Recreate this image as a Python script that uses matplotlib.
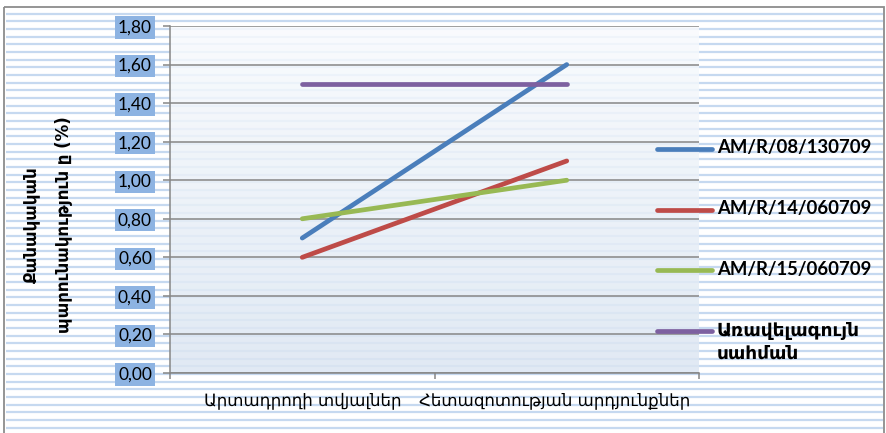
import numpy as np
import matplotlib
matplotlib.use("Agg")
import matplotlib.pyplot as plt
from matplotlib.lines import Line2D
from matplotlib.patches import Rectangle
from matplotlib.transforms import ScaledTranslation

# ---- data -------------------------------------------------------------
categories = ["Արտադրողի տվյալներ", "Հետազոտության արդյունքներ"]
series_names = ["AM/R/08/130709", "AM/R/14/060709", "AM/R/15/060709",
                "Առավելագույն\nսահման"]
am_r_08 = [0.70, 1.60]
am_r_14 = [0.60, 1.10]
am_r_15 = [0.80, 1.00]
max_limit = [1.50, 1.50]
y_ticks = [0.00, 0.20, 0.40, 0.60, 0.80, 1.00, 1.20, 1.40, 1.60, 1.80]
y_tick_labels = ["0,00", "0,20", "0,40", "0,60", "0,80", "1,00", "1,20",
                 "1,40", "1,60", "1,80"]
y_label = "Քանակական\nպարունակություն ը (%)"

series_values = [am_r_08, am_r_14, am_r_15, max_limit]
series_colors = ["#4a7ebb", "#be4b48", "#98b954", "#7d60a0"]

ARM = ["DejaVu Sans"]
NUM = ["Lato", "DejaVu Sans"]

W, H = 886, 433
fig = plt.figure(figsize=(W / 100, H / 100), dpi=100)
fig.patch.set_facecolor("white")

# ---- striped chart background ------------------------------------------
bg = fig.add_axes([0, 0, 1, 1], zorder=0)
bg.set_xlim(0, W)
bg.set_ylim(H, 0)
bg.axis("off")
for y in np.arange(13.5, H, 7.67):
    bg.plot([6, 883], [y, y], color="#c6d9f0", lw=1.6, solid_capstyle="butt")
bg.add_patch(Rectangle((4.5, 6.5), 880, 440, fill=False,
                       edgecolor="#8c8c8c", lw=1.3))

# ---- plot area ---------------------------------------------------------
L, R, T, B = 170, 699, 26, 373
ax = fig.add_axes([L / W, (H - B) / H, (R - L) / W, (B - T) / H], zorder=2)
ax.patch.set_alpha(0)

grad = np.linspace(0, 1, 256).reshape(-1, 1)
top_c = np.array([0.975, 0.984, 0.995])
bot_c = np.array([0.862, 0.902, 0.949])
img = (top_c + (bot_c - top_c) * grad).reshape(256, 1, 3)
ax.imshow(img, extent=[0, 1, 0, 1], transform=ax.transAxes, aspect="auto",
          alpha=0.85, zorder=0)

n = len(categories)
x_pos = np.arange(n) + 0.5
ax.set_xlim(0, n)
ax.set_ylim(0, 1.8)

ax.set_yticks(y_ticks)
ax.set_yticklabels(y_tick_labels)
ax.yaxis.grid(True, color="#868686", lw=1.1, zorder=1)
ax.set_axisbelow(True)

for t in ax.get_yticklabels():
    t.set_fontfamily(NUM)
    t.set_fontsize(12.5)
    t.set_bbox(dict(facecolor="#8db3e2", edgecolor="none", pad=2.2))
ax.tick_params(axis="y", length=5, width=1.1, color="#868686", pad=8)

# category axis: ticks between categories, labels at category centres
ax.set_xticks(np.arange(n + 1))
ax.set_xticklabels([])
ax.set_xticks(x_pos, minor=True)
ax.set_xticklabels(categories, minor=True, fontfamily=ARM, fontsize=12)
ax.tick_params(axis="x", which="major", length=4, width=1.1, color="#868686")
ax.tick_params(axis="x", which="minor", length=0, pad=13)
last = ax.get_xticklabels(minor=True)[-1]
last.set_transform(last.get_transform() +
                   ScaledTranslation(-12 / 100, 0, fig.dpi_scale_trans))

for side in ["top", "right"]:
    ax.spines[side].set_visible(False)
for side in ["left", "bottom"]:
    ax.spines[side].set_color("#868686")
    ax.spines[side].set_linewidth(1.1)

for vals, col in zip(series_values, series_colors):
    ax.plot(x_pos, vals, color=col, lw=3.4, solid_capstyle="round",
            zorder=3, clip_on=False)

# ---- y axis title ------------------------------------------------------
fig.text(47 / W, 1 - 225 / H, y_label, rotation=90, ha="center",
         va="center", multialignment="center", fontfamily=ARM,
         fontsize=12, fontweight="bold", linespacing=2.0)

# ---- legend ------------------------------------------------------------
for i, (name, col) in enumerate(zip(series_names, series_colors)):
    yy = 149 + i * 60.7
    fig.add_artist(Line2D([657 / W, 712 / W], [1 - yy / H, 1 - yy / H],
                          color=col, lw=3.4, solid_capstyle="round",
                          zorder=10))
    fam = NUM if name.startswith("AM") else ARM
    fig.text(717 / W, 1 - (yy - 9.5) / H, name, ha="left", va="top",
             fontfamily=fam, fontsize=13.3, fontweight="bold",
             linespacing=1.4, zorder=10)

fig.savefig("out.png", dpi=100)
